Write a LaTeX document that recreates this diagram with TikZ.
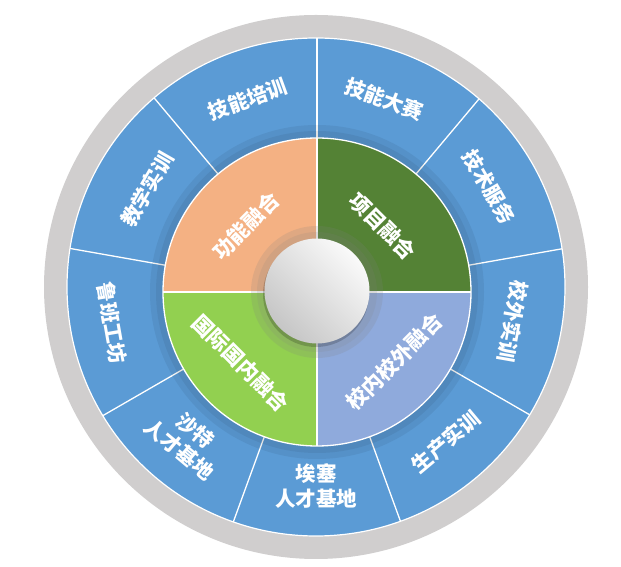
\documentclass[tikz,border=0pt]{standalone}
\usepackage{fontspec}
\newfontfamily\cjk{Noto Sans CJK SC}
\usetikzlibrary{calc}
\definecolor{ringgrey}{HTML}{D0CECE}
\definecolor{blueseg}{HTML}{5B9BD5}
\definecolor{orangeq}{HTML}{F4B183}
\definecolor{darkgreenq}{HTML}{548235}
\definecolor{lightgreenq}{HTML}{92D050}
\definecolor{lavenderq}{HTML}{8FAADC}
\begin{document}
\begin{tikzpicture}[x=1pt,y=1pt,
  seglabel/.style={text=white,font=\cjk\bfseries\fontsize{20.5}{25}\selectfont,align=center,inner sep=0pt},
  quadlabel/.style={text=white,font=\cjk\bfseries\fontsize{21}{25}\selectfont,inner sep=0pt},
  divider/.style={draw=white,line width=1.3pt}]
\useasboundingbox (0,0) rectangle (621,567);
\coordinate (O) at (316,280);
\coordinate (I) at (317,275);
% outer grey ring
\fill[ringgrey] (O) circle (272);
% blue ring
\fill[blueseg] (O) circle (249);
\begin{scope}
\clip (O) circle (249);
\foreach \a in {90,50,10,-30,-70,-110,-150,170,130}
  \draw[divider] ($(I)+(\a:154)$) -- ($(I)+(\a:270)$);
\end{scope}
\draw[white,line width=1.2pt] (O) circle (249);
% shadow band around inner disc
\fill[black,opacity=0.06] (I) circle (167);
\fill[black,opacity=0.06] (I) circle (161);
% quadrants
\fill[orangeq] (I) -- ++(90:154) arc (90:180:154) -- cycle;
\fill[darkgreenq] (I) -- ++(0:154) arc (0:90:154) -- cycle;
\fill[lightgreenq] (I) -- ++(180:154) arc (180:270:154) -- cycle;
\fill[lavenderq] (I) -- ++(270:154) arc (270:360:154) -- cycle;
\draw[white,line width=1.3pt] (I) circle (154);
\draw[divider] ($(I)+(0,154)$) -- ($(I)+(0,-154)$);
\draw[divider] ($(I)+(-154,0)$) -- ($(I)+(154,0)$);
% halo round the sphere
\fill[gray,opacity=0.18] (I) circle (66);
\fill[gray,opacity=0.14] (I) circle (60);
% sphere
\fill[black,opacity=0.18] ($(I)+(-1,-2)$) circle (53);
\shade[shading=axis,top color=white!96!gray,bottom color=gray!45!white,shading angle=-45] ($(I)+(0,1)$) circle (52.5);
% inner labels
\node[quadlabel,rotate=45]  (q1) at ($(I)+(137:97)$) {功能融合};
\node[quadlabel,rotate=-45] (q2) at ($(I)+(45:93)$) {项目融合};
\node[quadlabel,rotate=-45] (q3) at ($(I)+(223:104)$) {国际国内融合};
\node[quadlabel,rotate=45]  (q4) at ($(I)+(-42:104)$) {校内校外融合};
% outer labels
\node[seglabel,rotate=20]   (s1) at ($(O)+(110:200)$) {技能培训};
\node[seglabel,rotate=-20]  (s2) at ($(O)+(70:200)$) {技能大赛};
\node[seglabel,rotate=-60]  (s3) at ($(O)+(30:200)$) {技术服务};
\node[seglabel,rotate=-100] (s4) at ($(O)+(-10:200)$) {校外实训};
\node[seglabel,rotate=40]   (s5) at ($(O)+(-50:202)$) {生产实训};
\node[seglabel,rotate=0]    (s6) at ($(O)+(-90:199)$) {埃塞\\人才基地};
\node[seglabel,rotate=-40]  (s7) at ($(O)+(-130:200)$) {沙特\\人才基地};
\node[seglabel,rotate=-80]  (s8) at ($(O)+(190:207)$) {鲁班工坊};
\node[seglabel,rotate=60]   (s9) at ($(O)+(150:195)$) {教学实训};
\end{tikzpicture}
\end{document}
